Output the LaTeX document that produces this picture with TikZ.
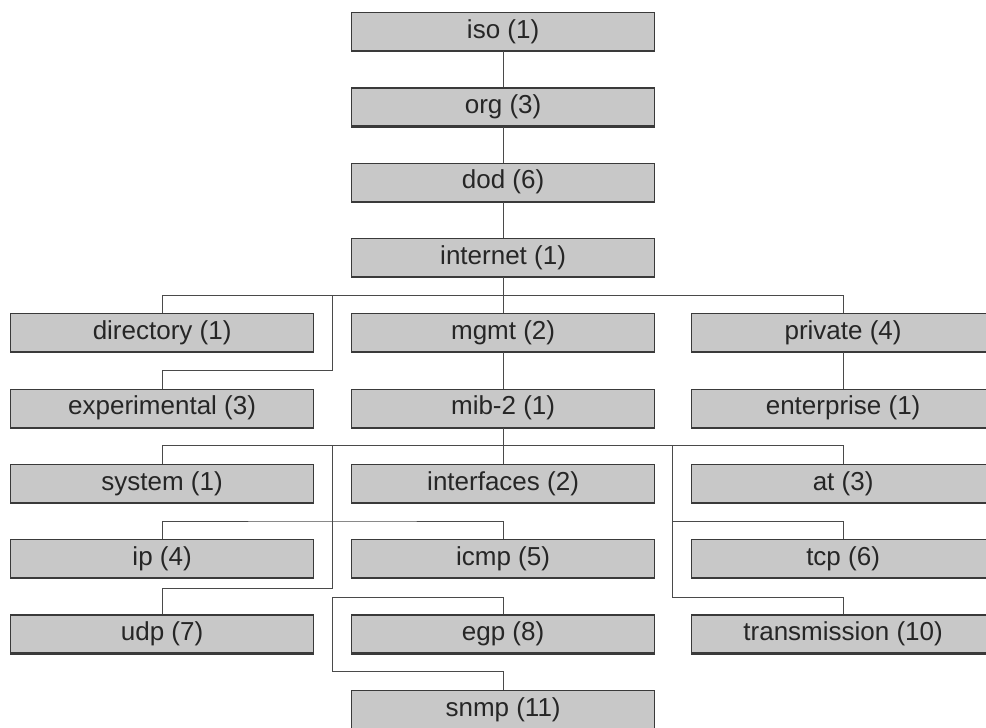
\documentclass[tikz,border=0pt]{standalone}
\usepackage{fontspec}
\setmainfont{Liberation Sans}
\definecolor{boxfill}{HTML}{C8C8C8}
\definecolor{boxline}{HTML}{3A3A3A}
\definecolor{wirecol}{HTML}{4A4A4A}
\begin{document}
\begin{tikzpicture}[x=1pt,y=-1pt,
  mibbox/.style={draw=boxline,fill=boxfill,line width=1.2pt,minimum width=303pt,minimum height=38pt,inner sep=0pt,anchor=north west,font=\fontsize{26}{30}\selectfont,text=black!85},
  wire/.style={draw=wirecol,line width=1pt},
  bottomedge/.style={draw=boxline,line width=2pt}]
\useasboundingbox (0,0) rectangle (986,728);
\clip (0,0) rectangle (986,728);
% boxes
\node[mibbox] (iso) at (351,12) {iso (1)};
\node[mibbox] (org) at (351,87.3) {org (3)};
\node[mibbox] (dod) at (351,162.6) {dod (6)};
\node[mibbox] (internet) at (351,237.9) {internet (1)};
\node[mibbox] (directory) at (10,313.2) {directory (1)};
\node[mibbox] (mgmt) at (351,313.2) {mgmt (2)};
\node[mibbox] (private) at (691,313.2) {private (4)};
\node[mibbox] (experimental) at (10,388.5) {experimental (3)};
\node[mibbox] (mibtwo) at (351,388.5) {mib-2 (1)};
\node[mibbox] (enterprise) at (691,388.5) {enterprise (1)};
\node[mibbox] (system) at (10,463.8) {system (1)};
\node[mibbox] (interfaces) at (351,463.8) {interfaces (2)};
\node[mibbox] (atn) at (691,463.8) {at (3)};
\node[mibbox] (ipn) at (10,539.1) {ip (4)};
\node[mibbox] (icmp) at (351,539.1) {icmp (5)};
\node[mibbox] (tcp) at (691,539.1) {tcp (6)};
\node[mibbox] (udp) at (10,614.4) {udp (7)};
\node[mibbox] (egp) at (351,614.4) {egp (8)};
\node[mibbox] (transmission) at (691,614.4) {transmission (10)};
\node[mibbox] (snmp) at (351,689.7) {snmp (11)};
\foreach \n in {iso,org,dod,internet,directory,mgmt,private,experimental,mibtwo,enterprise,system,interfaces,atn,ipn,icmp,tcp,udp,egp,transmission,snmp}
  \draw[bottomedge] (\n.south west) -- (\n.south east);
% top chain
\draw[wire] (iso.south) -- (org.north);
\draw[wire] (org.south) -- (dod.north);
\draw[wire] (dod.south) -- (internet.north);
% internet children
\coordinate (busA) at (502.5,295.5);
\coordinate (ea) at (332,295.5);
\coordinate (eb) at (332,370.5);
\draw[wire] (internet.south) -- (mgmt.north);
\draw[wire] (directory.north) |- (busA) -| (private.north);
\draw[wire] (ea) -- (eb) -| (experimental.north);
\draw[wire] (mgmt.south) -- (mibtwo.north);
\draw[wire] (private.south) -- (enterprise.north);
% mib-2 children
\coordinate (busB) at (502.5,445.5);
\coordinate (la) at (332,445.5);
\coordinate (lb) at (332,521);
\coordinate (lc) at (332,588);
\coordinate (ma) at (332,597.5);
\coordinate (mb) at (332,671);
\coordinate (ra) at (672.5,445.5);
\coordinate (rb) at (672.5,521);
\coordinate (rc) at (672.5,597.5);
\draw[wire] (mibtwo.south) -- (interfaces.north);
\draw[wire] (system.north) |- (busB) -| (atn.north);
\draw[wire] (la) -- (lb);
\draw[wire] (ipn.north) |- (lb) -| (icmp.north);
\draw[wire] (lb) -- (lc) -| (udp.north);
\draw[wire] (egp.north) |- (ma) -- (mb) -| (snmp.north);
\draw[wire] (ra) -- (rc) -| (transmission.north);
\draw[wire] (rb) -| (tcp.north);
\end{tikzpicture}
\end{document}
